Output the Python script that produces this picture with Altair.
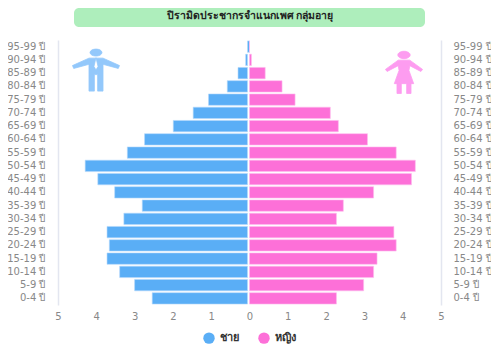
import altair as alt
import pandas as pd

ages = ["95-99 ปี","90-94 ปี","85-89 ปี","80-84 ปี","75-79 ปี","70-74 ปี","65-69 ปี","60-64 ปี","55-59 ปี","50-54 ปี",
        "45-49 ปี","40-44 ปี","35-39 ปี","30-34 ปี","25-29 ปี","20-24 ปี","15-19 ปี","10-14 ปี","5-9 ปี","0-4 ปี"]
male = [0,0.10,0.30,0.58,1.07,1.47,1.99,2.74,3.19,4.29,3.96,3.52,2.80,3.28,3.72,3.66,3.72,3.39,3.00,2.54]
female = [0,0.05,0.41,0.85,1.19,2.11,2.32,3.08,3.83,4.33,4.23,3.24,2.45,2.27,3.77,3.83,3.33,3.24,2.98,2.27]
ticks = [-5,-4,-3,-2,-1,0,1,2,3,4,5]
title_text = "ปิรามิดประชากรจำแนกเพศ กลุ่มอายุ"
sexes = ["ชาย", "หญิง"]
colors = ["#5aaef6", "#fd70d8"]
icon_colors = ["#93c8fb", "#fd9cf0"]

MAN = ("M-0.29,-0.87 A0.29,0.17 0 1 1 0.29,-0.87 A0.29,0.17 0 1 1 -0.29,-0.87 Z "
       "M-0.34,-0.6 L0.34,-0.6 L1.14,-0.24 L1.08,-0.1 L0.34,-0.3 L0.34,1.0 L0.08,1.0 L0.08,0.2 L-0.08,0.2 "
       "L-0.08,1.0 L-0.34,1.0 L-0.34,-0.3 L-1.08,-0.1 L-1.14,-0.24 Z "
       "M0,-0.62 L-0.1,-0.2 L0,-0.02 L0.1,-0.2 Z")
WOMAN = ("M-0.3,-0.85 A0.3,0.18 0 1 1 0.3,-0.85 A0.3,0.18 0 1 1 -0.3,-0.85 Z "
         "M-0.28,-0.6 L0.28,-0.6 L0.9,-0.15 L0.82,-0.05 L0.28,-0.33 L0.24,-0.1 L0.47,0.54 L0.34,0.54 L0.34,1.02 "
         "L0.13,1.02 L0.13,0.54 L-0.13,0.54 L-0.13,1.02 L-0.34,1.02 L-0.34,0.54 L-0.47,0.54 L-0.24,-0.1 "
         "L-0.28,-0.33 L-0.82,-0.05 L-0.9,-0.15 Z")

df_m = pd.DataFrame({"age": ages, "v": [-x for x in male], "zero": 0, "sex": sexes[0]})
df_f = pd.DataFrame({"age": ages, "v": female, "zero": 0, "sex": sexes[1]})

xscale = alt.Scale(domain=[-5, 5], nice=False, zero=False)
xaxis = alt.Axis(values=ticks, labelExpr="abs(datum.value)", grid=False, domain=False, ticks=False, title=None,
                 labelColor="#888888", labelFont="DejaVu Sans", labelFontSize=10, labelPadding=6,
                 labelFlush=False, labelBound=False, labelOverlap=False)
color = alt.Color("sex:N", scale=alt.Scale(domain=sexes, range=colors),
                  legend=alt.Legend(title=None, orient="none", legendX=145, legendY=292, direction="horizontal",
                                    symbolType="circle", symbolSize=130, symbolStrokeWidth=0, labelFont="Noto Sans",
                                    labelFontSize=11, labelFontWeight="bold", labelColor="#333333", columnPadding=19,
                                    labelOffset=5))

def yax(orient, pad):
    return alt.Axis(orient=orient, title=None, ticks=False, domainColor="#e3e6f0", domainWidth=1.5, labelPadding=pad,
                    labelColor="#888888", labelFont="DejaVu Sans", labelFontSize=10, grid=False)

yscale = alt.Scale(domain=ages, paddingInner=0.14, paddingOuter=0.07)

m = alt.Chart(df_m).mark_bar(x2Offset=-2, stroke="#b5d9fb", strokeWidth=0.6).encode(
    x=alt.X("v:Q", scale=xscale, axis=xaxis), x2="zero:Q",
    y=alt.Y("age:N", sort=ages, scale=yscale, axis=yax("left", 13)), color=color)
f = alt.Chart(df_f).mark_bar(stroke="#fdbcee", strokeWidth=0.6).encode(
    x=alt.X("v:Q", scale=xscale, axis=xaxis), x2="zero:Q",
    y=alt.Y("age:N", sort=ages, scale=yscale, axis=yax("right", 12)), color=color)

bars = alt.layer(m, f).resolve_scale(y="independent")

one = pd.DataFrame({"a": [0]})
banner = alt.Chart(one).mark_rect(color="#aeeebc", cornerRadius=5).encode(
    x=alt.value(16), x2=alt.value(367), y=alt.value(-32), y2=alt.value(-13))
title = alt.Chart(one).mark_text(text=title_text, font="Noto Sans", fontSize=10.5, fontWeight="bold", color="#222222").encode(
    x=alt.value(192), y=alt.value(-24))
man = alt.Chart(one).mark_point(shape=MAN, filled=True, opacity=1, size=1700, color=icon_colors[0], stroke=icon_colors[0],
                                strokeWidth=0.8, strokeJoin="round").encode(
    x=alt.value(38), y=alt.value(30.5))
woman = alt.Chart(one).mark_point(shape=WOMAN, filled=True, opacity=1, size=1700, color=icon_colors[1], stroke=icon_colors[1],
                                  strokeWidth=0.8, strokeJoin="round").encode(
    x=alt.value(346), y=alt.value(32.5))

chart = alt.layer(banner, title, man, woman, bars).properties(
    width=383, height=265,
    padding={"left": 50, "top": 32, "right": 50, "bottom": 43},
    autosize=alt.AutoSizeParams(type="none"),
).configure_view(stroke=None)

chart.save("out.html", embed_options={"renderer": "svg", "actions": False})
